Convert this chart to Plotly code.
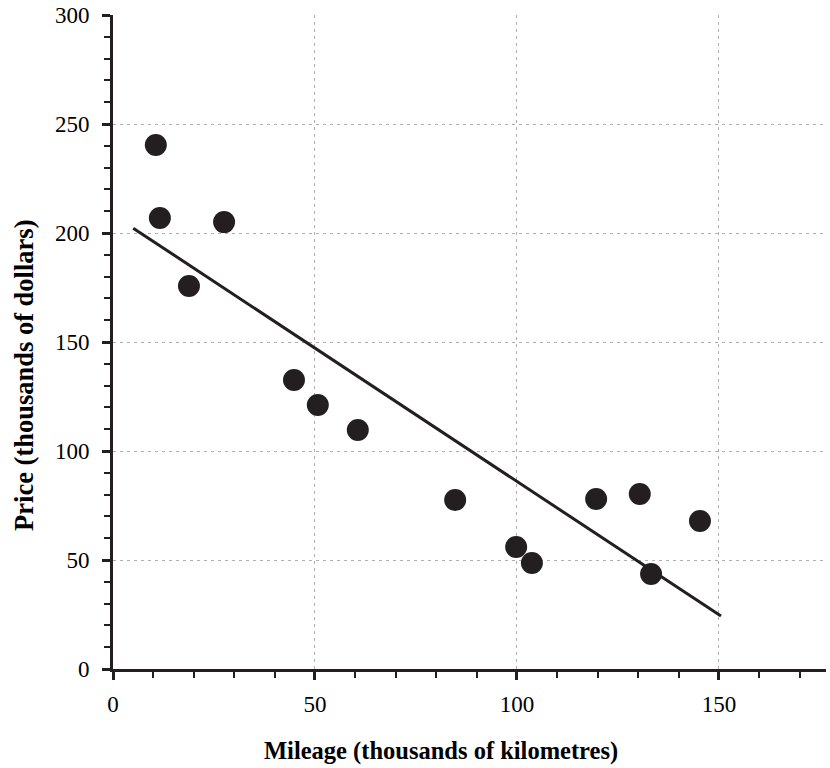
import numpy as np
import plotly.graph_objects as go

mileage = [10.6, 11.6, 18.8, 27.5, 44.8, 50.7, 60.6, 84.7, 99.8, 103.7, 119.6, 130.4, 133.2, 145.3]
price = [240.4, 206.9, 175.7, 205.0, 132.6, 121.1, 109.6, 77.5, 56.0, 48.6, 78.0, 80.3, 43.6, 67.9]
trend_ends = [5.0, 150.5]
x_title = "Mileage (thousands of kilometres)"
y_title = "Price (thousands of dollars)"

slope, intercept = np.polyfit(mileage, price, 1)
trend_y = [slope * x + intercept for x in trend_ends]

ink = "#231f20"
font = "'Liberation Serif', 'Times New Roman', Times, 'DejaVu Serif', serif"

fig = go.Figure()
fig.add_trace(go.Scatter(x=trend_ends, y=trend_y, mode="lines",
                         line=dict(color=ink, width=3), showlegend=False))
fig.add_trace(go.Scatter(x=mileage, y=price, mode="markers",
                         marker=dict(color=ink, size=22, line=dict(width=0)),
                         showlegend=False))

axis_common = dict(
    showline=True, linecolor=ink, linewidth=3,
    ticks="outside", ticklen=8, tickwidth=2.5, tickcolor=ink,
    showgrid=True, gridcolor="#b0b0b0", gridwidth=1.3, griddash="3px,4px",
    zeroline=False, automargin=False,
    tickfont=dict(family=font, size=23, color="black"),
    minor=dict(dtick=10, ticks="outside", ticklen=6, tickwidth=2, tickcolor=ink, showgrid=False),
)

fig.update_xaxes(range=[0, 176.5], dtick=50, tick0=0, ticklabelstandoff=4, **axis_common)
fig.update_yaxes(range=[0, 300], dtick=50, tick0=0, ticklabelstandoff=8, **axis_common)

fig.add_annotation(text="<b>" + x_title + "</b>", xref="paper", yref="paper",
                   x=0.46, y=-0.1254, xanchor="center", yanchor="middle",
                   showarrow=False, font=dict(family=font, size=24.5, color="black"))
fig.add_annotation(text="<b>" + y_title + "</b>", xref="paper", yref="paper",
                   x=-0.125, y=0.4495, xanchor="center", yanchor="middle", textangle=-90,
                   showarrow=False, font=dict(family=font, size=26.5, color="black"))

fig.update_layout(
    width=830, height=768,
    margin=dict(l=113, r=4, t=15, b=99),
    plot_bgcolor="white", paper_bgcolor="white",
)

fig.write_html("out.html")
